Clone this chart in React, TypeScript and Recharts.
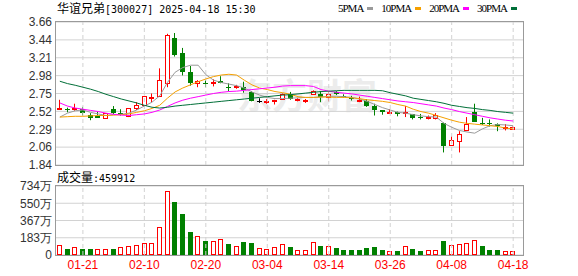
import React from 'react'
import { Bar, CartesianGrid, ComposedChart, Line, ReferenceLine, XAxis, YAxis } from 'recharts'

// ─── Data ──────────────────────────────────────────────────────
const dates = [
  '01-16', '01-17', '01-20', '01-21', '01-22', '01-23', '01-24', '01-27', '02-05', '02-06',
  '02-07', '02-10', '02-11', '02-12', '02-13', '02-14', '02-17', '02-18', '02-19', '02-20',
  '02-21', '02-24', '02-25', '02-26', '02-27', '02-28', '03-03', '03-04', '03-05', '03-06',
  '03-07', '03-10', '03-11', '03-12', '03-13', '03-14', '03-17', '03-18', '03-19', '03-20',
  '03-21', '03-24', '03-25', '03-26', '03-27', '03-28', '03-31', '04-01', '04-02', '04-03',
  '04-07', '04-08', '04-09', '04-10', '04-11', '04-14', '04-15', '04-16', '04-17', '04-18',
]
const opens = [
  2.55, 2.55, 2.55, 2.55, 2.48, 2.47, 2.44, 2.55, 2.50, 2.47,
  2.57, 2.61, 2.70, 2.72, 2.88, 3.46, 3.26, 3.02, 2.88, 2.89,
  2.89, 2.91, 2.83, 2.83, 2.83, 2.77, 2.66, 2.65, 2.66, 2.68,
  2.74, 2.67, 2.65, 2.75, 2.75, 2.70, 2.77, 2.72, 2.69, 2.66,
  2.66, 2.59, 2.54, 2.51, 2.51, 2.50, 2.49, 2.45, 2.44, 2.44,
  2.38, 2.09, 2.15, 2.29, 2.51, 2.38, 2.37, 2.36, 2.31, 2.30,
]
const highs = [
  2.67, 2.57, 2.62, 2.58, 2.50, 2.52, 2.50, 2.59, 2.55, 2.56,
  2.64, 2.72, 2.75, 3.07, 3.51, 3.52, 3.33, 3.10, 2.92, 2.92,
  2.93, 2.97, 2.88, 2.86, 2.90, 2.78, 2.69, 2.68, 2.67, 2.75,
  2.77, 2.69, 2.68, 2.79, 2.78, 2.78, 2.78, 2.74, 2.72, 2.71,
  2.68, 2.62, 2.54, 2.55, 2.52, 2.59, 2.49, 2.49, 2.47, 2.50,
  2.38, 2.21, 2.27, 2.45, 2.62, 2.44, 2.42, 2.37, 2.36, 2.33,
]
const lows = [
  2.55, 2.51, 2.53, 2.47, 2.41, 2.44, 2.43, 2.49, 2.47, 2.45,
  2.54, 2.60, 2.64, 2.71, 2.83, 3.22, 2.98, 2.85, 2.83, 2.83,
  2.84, 2.88, 2.78, 2.81, 2.76, 2.65, 2.63, 2.62, 2.61, 2.67,
  2.67, 2.65, 2.63, 2.73, 2.64, 2.65, 2.73, 2.70, 2.66, 2.64,
  2.58, 2.47, 2.48, 2.49, 2.46, 2.45, 2.42, 2.42, 2.42, 2.42,
  2.00, 2.09, 2.00, 2.29, 2.39, 2.35, 2.33, 2.27, 2.28, 2.29,
]
const closes = [
  2.57, 2.54, 2.56, 2.50, 2.44, 2.44, 2.50, 2.50, 2.49, 2.56,
  2.60, 2.72, 2.71, 2.92, 3.50, 3.24, 3.03, 2.88, 2.91, 2.88,
  2.90, 2.89, 2.82, 2.84, 2.79, 2.66, 2.66, 2.66, 2.67, 2.74,
  2.68, 2.68, 2.67, 2.78, 2.70, 2.74, 2.74, 2.71, 2.68, 2.67,
  2.59, 2.54, 2.51, 2.52, 2.49, 2.51, 2.44, 2.44, 2.45, 2.48,
  2.08, 2.16, 2.24, 2.36, 2.39, 2.37, 2.36, 2.33, 2.32, 2.33,
]
const ma5 = [
  2.45, 2.50, 2.53, 2.54, 2.51, 2.49, 2.47, 2.48, 2.485, 2.50,
  2.54, 2.59, 2.64, 2.72, 2.89, 3.02, 3.08, 3.11, 3.11, 2.99,
  2.92, 2.89, 2.87, 2.85, 2.82, 2.77, 2.73, 2.70, 2.685, 2.685,
  2.69, 2.695, 2.70, 2.70, 2.705, 2.715, 2.715, 2.71, 2.70, 2.68,
  2.65, 2.61, 2.57, 2.54, 2.51, 2.50, 2.48, 2.465, 2.455, 2.45,
  2.37, 2.32, 2.28, 2.26, 2.245, 2.30, 2.34, 2.355, 2.35, 2.34,
]
const ma10 = [
  2.45, 2.455, 2.46, 2.46, 2.465, 2.47, 2.47, 2.475, 2.48, 2.49,
  2.51, 2.53, 2.56, 2.60, 2.69, 2.77, 2.82, 2.86, 2.90, 2.935,
  2.965, 2.985, 2.995, 2.985, 2.92, 2.86, 2.82, 2.80, 2.775, 2.76,
  2.74, 2.71, 2.70, 2.70, 2.705, 2.705, 2.70, 2.70, 2.695, 2.685,
  2.67, 2.66, 2.65, 2.635, 2.61, 2.59, 2.55, 2.52, 2.50, 2.47,
  2.44, 2.41, 2.385, 2.37, 2.36, 2.35, 2.34, 2.33, 2.31, 2.30,
]
const ma20 = [
  2.63, 2.59, 2.565, 2.55, 2.535, 2.52, 2.50, 2.485, 2.475, 2.47,
  2.48, 2.49, 2.51, 2.54, 2.585, 2.63, 2.665, 2.69, 2.71, 2.73,
  2.75, 2.765, 2.775, 2.78, 2.79, 2.80, 2.81, 2.82, 2.83, 2.845,
  2.85, 2.85, 2.85, 2.84, 2.80, 2.78, 2.765, 2.755, 2.745, 2.73,
  2.715, 2.70, 2.685, 2.67, 2.655, 2.645, 2.635, 2.62, 2.605, 2.59,
  2.565, 2.545, 2.52, 2.50, 2.48, 2.46, 2.44, 2.425, 2.41, 2.40,
]
const ma30 = [
  2.906, 2.876, 2.855, 2.83, 2.805, 2.775, 2.74, 2.71, 2.68, 2.655,
  2.63, 2.60, 2.575, 2.565, 2.575, 2.59, 2.60, 2.61, 2.62, 2.63,
  2.64, 2.65, 2.66, 2.67, 2.68, 2.69, 2.70, 2.71, 2.72, 2.73,
  2.735, 2.745, 2.755, 2.765, 2.775, 2.78, 2.785, 2.79, 2.79, 2.79,
  2.79, 2.79, 2.785, 2.76, 2.74, 2.72, 2.69, 2.675, 2.66, 2.645,
  2.625, 2.60, 2.585, 2.57, 2.56, 2.545, 2.535, 2.52, 2.51, 2.50,
]
// 成交量, in 万
const volumes = [
  106, 64, 82, 64, 64, 60, 60, 64, 82, 96,
  106, 128, 128, 294, 677, 564, 440, 245, 202, 149,
  149, 167, 121, 96, 138, 131, 71, 64, 85, 117,
  85, 50, 50, 138, 96, 96, 74, 53, 53, 53,
  74, 85, 53, 39, 43, 92, 64, 43, 50, 50,
  149, 106, 117, 128, 160, 96, 53, 53, 39, 46,
]
// volume bar drawn red (hollow) or green (filled)
const volUp = [
  1, 0, 1, 0, 0, 1, 1, 0, 1, 1,
  1, 1, 1, 1, 1, 0, 0, 0, 1, 0,
  1, 1, 0, 1, 0, 0, 1, 1, 1, 1,
  0, 1, 1, 1, 0, 1, 0, 0, 0, 0,
  0, 0, 0, 1, 0, 1, 0, 0, 1, 1,
  0, 1, 1, 1, 1, 0, 0, 0, 1, 1,
]
const priceLabels = ['1.84', '2.06', '2.29', '2.52', '2.75', '2.98', '3.21', '3.44', '3.66']
const volLabels = ['0', '183万', '367万', '550万', '734万']
const dateTicks = ['01-21', '02-10', '02-20', '03-04', '03-14', '03-26', '04-08', '04-18']
const legendItems = [
  { name: '5PMA', key: 'ma5' },
  { name: '10PMA', key: 'ma10' },
  { name: '20PMA', key: 'ma20' },
  { name: '30PMA', key: 'ma30' },
]

const PRICE_MIN = 1.84
const PRICE_MAX = 3.66
const VOL_MAX = 734

const UP = '#ff0000'
const DOWN = '#008000'
const MA_COLORS: Record<string, string> = {
  ma5: '#9a9a9a',
  ma10: '#f5a000',
  ma20: '#ff00ff',
  ma30: '#006f38',
}
const GRID = '#d2d2d2'
const FRAME = '#9a9a9a'
const MONO = "'DejaVu Sans Mono', monospace"
const CJK = "'Noto Sans CJK SC', sans-serif"
const SANS = "'Liberation Sans', Arial, sans-serif"

const rows = dates.map((date, i) => ({
  date,
  open: opens[i],
  high: highs[i],
  low: lows[i],
  close: closes[i],
  range: [lows[i], highs[i]],
  ma5: ma5[i],
  ma10: ma10[i],
  ma20: ma20[i],
  ma30: ma30[i],
  vol: volumes[i],
  volUp: volUp[i] === 1,
}))

const priceTicks = priceLabels.map((_, k) => PRICE_MIN + (k * (PRICE_MAX - PRICE_MIN)) / (priceLabels.length - 1))
const volTicks = volLabels.map((_, k) => (k * VOL_MAX) / (volLabels.length - 1))

// ─── Shapes ───────────────────────────────────────────────────
function Candle(props: any) {
  const { x, y, width, height, payload } = props
  if (x == null || !payload) return null
  const { open, high, low, close } = payload
  const top = Math.min(y, y + height)
  const span = Math.abs(height)
  const toY = (v: number) => top + ((high - v) / (high - low || 1)) * span
  const left = Math.round(x + width / 2 - 2.5)
  const mid = left + 2.5
  const by = Math.round(toY(Math.max(open, close)))
  const bh = Math.max(Math.round(toY(Math.min(open, close))) - by, 1)
  if (close > open) {
    return (
      <g>
        <line x1={mid} x2={mid} y1={top} y2={by} stroke={UP} />
        <line x1={mid} x2={mid} y1={by + bh} y2={top + span} stroke={UP} />
        <rect x={left + 0.5} y={by + 0.5} width={4} height={bh} fill="#fff" stroke={UP} />
      </g>
    )
  }
  if (close < open) {
    return (
      <g>
        <line x1={mid} x2={mid} y1={top} y2={top + span} stroke={DOWN} />
        <rect x={left} y={by} width={5} height={bh} fill={DOWN} />
      </g>
    )
  }
  return (
    <g>
      <line x1={mid} x2={mid} y1={top} y2={top + span} stroke="#000" />
      <line x1={left} x2={left + 5} y1={by + 0.5} y2={by + 0.5} stroke="#000" />
    </g>
  )
}

function VolBar(props: any) {
  const { x, y, width, height, payload } = props
  if (x == null || !payload) return null
  const left = Math.round(x + width / 2 - 2.5)
  const top = Math.round(y)
  const h = Math.round(y + height) - top
  if (payload.volUp) {
    return <rect x={left + 0.5} y={top + 0.5} width={4} height={h - 1} fill="#fff" stroke={UP} />
  }
  return <rect x={left} y={top} width={5} height={h} fill={DOWN} />
}

const axisTick = { fontSize: 12, fill: '#333', fontFamily: SANS }

export default function App() {
  return (
    <div style={{ position: 'absolute', left: 0, top: 0, width: 578, height: 276, background: '#fff', overflow: 'hidden' }}>
      {/* watermark */}
      <div style={{ position: 'absolute', left: 237, top: 68, fontFamily: CJK, fontSize: 35, fontWeight: 700, color: '#ececec', whiteSpace: 'nowrap' }}>
        东方财富
      </div>

      <div style={{ position: 'absolute', left: 57, top: 1, whiteSpace: 'nowrap', color: '#000', lineHeight: '14px' }}>
        <span style={{ fontFamily: CJK, fontSize: 12 }}>华谊兄弟</span>
        <span style={{ fontFamily: MONO, fontSize: 10 }}>[300027] 2025-04-18 15:30</span>
      </div>

      <div style={{ position: 'absolute', left: 338, top: 2, display: 'flex', alignItems: 'center', whiteSpace: 'nowrap', fontFamily: "'Liberation Serif', serif", fontSize: 11, letterSpacing: -1, color: '#000', lineHeight: '12px' }}>
        {legendItems.map(it => (
          <span key={it.key} style={{ display: 'flex', alignItems: 'center', marginRight: 8 }}>
            {it.name}
            <span style={{ display: 'inline-block', width: 6, height: 3, marginLeft: 4, background: MA_COLORS[it.key] }} />
          </span>
        ))}
      </div>

      <div style={{ position: 'absolute', left: 0, top: 0 }}>
        <ComposedChart width={578} height={178} data={rows} margin={{ top: 22, right: 55, bottom: 13, left: 0 }}>
          <CartesianGrid vertical={false} stroke={GRID} />
          <XAxis dataKey="date" hide padding={{ left: 0, right: 6 }} />
          <YAxis
            domain={[PRICE_MIN, PRICE_MAX]}
            ticks={priceTicks}
            interval={0}
            allowDataOverflow
            tickFormatter={(_v: number, i: number) => priceLabels[i]}
            width={56}
            axisLine={false}
            tickLine={false}
            tickSize={2}
            tickMargin={2}
            tick={axisTick}
          />
          {dateTicks.map(d => (
            <ReferenceLine key={d} x={d} stroke={GRID} strokeDasharray="4 3" />
          ))}
          <Bar dataKey="range" barSize={5} shape={(p: any) => <Candle {...p} />} isAnimationActive={false} />
          {legendItems.map(it => (
            <Line
              key={it.key}
              type="linear"
              dataKey={it.key}
              stroke={MA_COLORS[it.key]}
              strokeWidth={1}
              dot={false}
              activeDot={false}
              isAnimationActive={false}
            />
          ))}
        </ComposedChart>
      </div>

      <div style={{ position: 'absolute', left: 57, top: 170, whiteSpace: 'nowrap', color: '#000', lineHeight: '14px' }}>
        <span style={{ fontFamily: CJK, fontSize: 12 }}>成交量</span>
        <span style={{ fontFamily: MONO, fontSize: 10 }}>:459912</span>
      </div>

      <div style={{ position: 'absolute', left: 0, top: 170 }}>
        <ComposedChart width={578} height={106} data={rows} margin={{ top: 16, right: 55, bottom: 0, left: 0 }}>
          <CartesianGrid vertical={false} stroke={GRID} />
          <XAxis
            dataKey="date"
            ticks={dateTicks}
            interval={0}
            padding={{ left: 0, right: 6 }}
            axisLine={false}
            tickLine={false}
            tickSize={0}
            tickMargin={5}
            height={21}
            tick={{ fontSize: 12, fill: '#ff0000', fontFamily: SANS }}
          />
          <YAxis
            domain={[0, VOL_MAX]}
            ticks={volTicks}
            interval={0}
            allowDataOverflow
            tickFormatter={(_v: number, i: number) => volLabels[i]}
            width={56}
            axisLine={false}
            tickLine={false}
            tickSize={2}
            tickMargin={2}
            tick={axisTick}
          />
          {dateTicks.map(d => (
            <ReferenceLine key={d} x={d} stroke={GRID} strokeDasharray="4 3" />
          ))}
          <Bar dataKey="vol" barSize={5} shape={(p: any) => <VolBar {...p} />} isAnimationActive={false} />
        </ComposedChart>
      </div>

      {/* plot frames */}
      <div style={{ position: 'absolute', left: 55, top: 21, width: 469, height: 145, border: `1px solid ${FRAME}`, boxSizing: 'border-box', pointerEvents: 'none' }} />
      <div style={{ position: 'absolute', left: 55, top: 185, width: 469, height: 71, border: `1px solid ${FRAME}`, boxSizing: 'border-box', pointerEvents: 'none' }} />
    </div>
  )
}
